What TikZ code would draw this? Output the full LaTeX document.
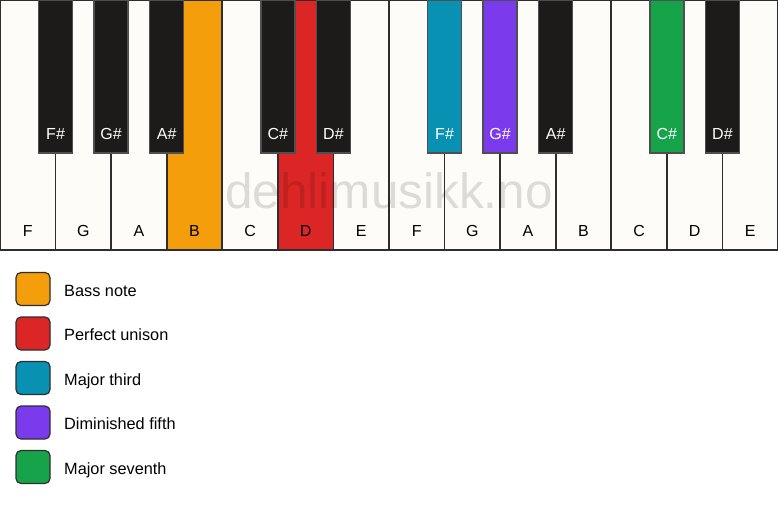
\documentclass[tikz,border=0pt]{standalone}
\usepackage{fontspec}
\setmainfont{Liberation Sans}
\definecolor{keywhite}{HTML}{FDFCF8}
\definecolor{keyblack}{HTML}{1C1B19}
\definecolor{keyline}{HTML}{2E2E2E}
\definecolor{blackline}{HTML}{4F4F4F}
\definecolor{bassorange}{HTML}{F59E0B}
\definecolor{unisonred}{HTML}{DC2626}
\definecolor{thirdcyan}{HTML}{0891B2}
\definecolor{fifthpurple}{HTML}{7C3AED}
\definecolor{seventhgreen}{HTML}{16A34A}
\begin{document}
\begin{tikzpicture}[x=1pt, y=-1pt,
    whitekey/.style={draw=keyline, fill=keywhite, line width=1.7pt, inner sep=0pt, outer sep=0pt, anchor=north west,
        text width=55.57pt, align=center, text height=236pt, text depth=14pt, font=\fontsize{16}{19}\selectfont},
    blackkey/.style={draw=blackline, fill=keyblack, text=white, line width=1.4pt, inner sep=0pt, outer sep=0pt, anchor=north,
        text width=34pt, align=center, text height=139pt, text depth=14pt, font=\fontsize{16}{19}\selectfont},
    legendbox/.style={draw=keyline, line width=1.2pt, rounded corners=5pt, minimum width=34pt, minimum height=33pt, inner sep=0pt},
    legendtext/.style={anchor=base west, inner sep=0pt, font=\fontsize{16.3}{19}\selectfont}]
                \useasboundingbox (0, 0) rectangle (778, 506);

                \node[whitekey] (keyF1) at (0, 0) {F};
                \node[whitekey] (keyG1) at (55.57, 0) {G};
                \node[whitekey] (keyA1) at (111.14, 0) {A};
                \node[whitekey, fill=bassorange] (keyB1) at (166.71, 0) {B};
                \node[whitekey] (keyC1) at (222.29, 0) {C};
                \node[whitekey, fill=unisonred] (keyD1) at (277.86, 0) {D};
                \node[whitekey] (keyE1) at (333.43, 0) {E};
                \node[whitekey] (keyF2) at (389, 0) {F};
                \node[whitekey] (keyG2) at (444.57, 0) {G};
                \node[whitekey] (keyA2) at (500.14, 0) {A};
                \node[whitekey] (keyB2) at (555.71, 0) {B};
                \node[whitekey] (keyC2) at (611.29, 0) {C};
                \node[whitekey] (keyD2) at (666.86, 0) {D};
                \node[whitekey] (keyE2) at (722.43, 0) {E};

                \node[blackkey] (keyFs1) at (55.57, 0) {F\#};
                \node[blackkey] (keyGs1) at (111.14, 0) {G\#};
                \node[blackkey] (keyAs1) at (166.71, 0) {A\#};
                \node[blackkey] (keyCs1) at (277.86, 0) {C\#};
                \node[blackkey] (keyDs1) at (333.43, 0) {D\#};
                \node[blackkey, fill=thirdcyan] (keyFs2) at (444.57, 0) {F\#};
                \node[blackkey, fill=fifthpurple] (keyGs2) at (500.14, 0) {G\#};
                \node[blackkey] (keyAs2) at (555.71, 0) {A\#};
                \node[blackkey, fill=seventhgreen] (keyCs2) at (666.86, 0) {C\#};
                \node[blackkey] (keyDs2) at (722.43, 0) {D\#};

                % watermark
                \node[anchor=base, inner sep=0pt, text=black, text opacity=0.13, font=\fontsize{49.5}{58}\selectfont] (mark) at (389, 208) {dehlimusikk.no};

                % legend
                \node[legendbox, fill=bassorange] (legbass) at (33, 289) {};
                \node[legendbox, fill=unisonred] (legunison) at (33, 333.5) {};
                \node[legendbox, fill=thirdcyan] (legthird) at (33, 378) {};
                \node[legendbox, fill=fifthpurple] (legfifth) at (33, 422.5) {};
                \node[legendbox, fill=seventhgreen] (legseventh) at (33, 467) {};
                \node[legendtext] (txtbass) at (64, 296) {Bass note};
                \node[legendtext] (txtunison) at (64, 340.5) {Perfect unison};
                \node[legendtext] (txtthird) at (64, 385) {Major third};
                \node[legendtext] (txtfifth) at (64, 429.5) {Diminished fifth};
                \node[legendtext] (txtseventh) at (64, 474) {Major seventh};
            \end{tikzpicture}
\end{document}
